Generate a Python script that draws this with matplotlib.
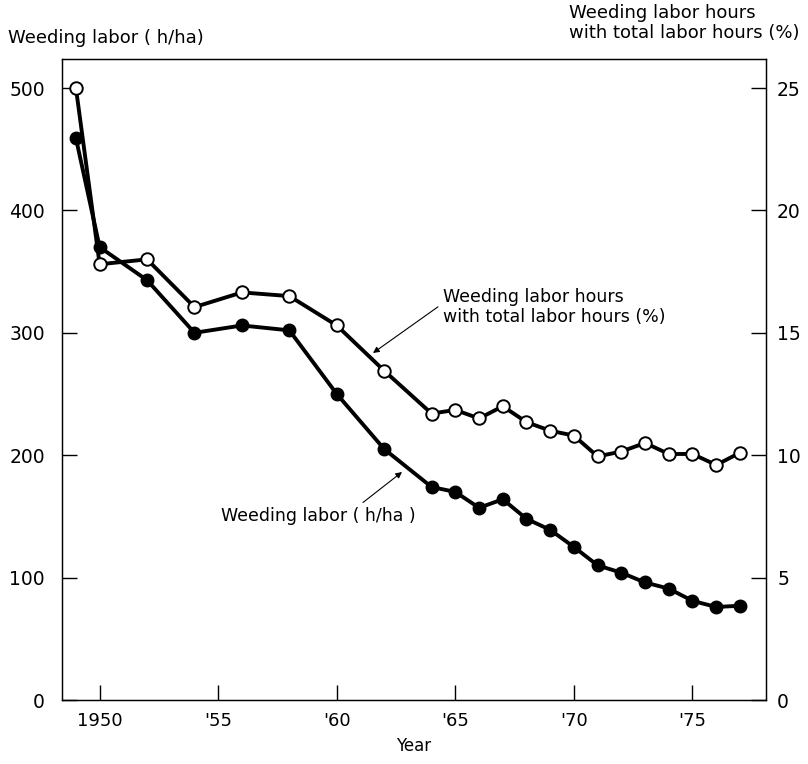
import matplotlib
matplotlib.use('Agg')
import matplotlib.pyplot as plt

# weeding labour per hectare (h/ha) and its share of total labour hours (%)
years = [1949, 1950, 1952, 1954, 1956, 1958, 1960, 1962,
         1964, 1965, 1966, 1967, 1968, 1969, 1970, 1971,
         1972, 1973, 1974, 1975, 1976, 1977]
labor_hha = [459, 370, 343, 300, 306, 302, 250, 205,
             174, 170, 157, 164, 148, 139, 125, 110,
             104, 96, 91, 81, 76, 77]
labor_share = [25.0, 17.8, 18.0, 16.05, 16.65, 16.5, 15.3, 13.45,
               11.7, 11.85, 11.5, 12.0, 11.35, 11.0, 10.8, 9.95,
               10.15, 10.5, 10.05, 10.05, 9.6, 10.1]

xticks = [1950, 1955, 1960, 1965, 1970, 1975]
xticklabels = ["1950", "'55", "'60", "'65", "'70", "'75"]
left_ticks = [0, 100, 200, 300, 400, 500]
right_ticks = [0, 5, 10, 15, 20, 25]

plt.rcParams.update({
    "font.family": "DejaVu Sans",
    "font.size": 12,
    "axes.linewidth": 0.9,
})

fig = plt.figure(figsize=(8.08, 7.64), dpi=100)
ax = fig.add_axes([61.7 / 808, 64 / 764, (766 - 61.7) / 808, (700 - 59) / 764])
ax2 = ax.twinx()

ax.set_xlim(1948.4, 1978.1)
ax.set_ylim(0, 523.7)
ax2.set_ylim(0, 523.7 / 20)

ax.plot(years, labor_hha, color='black', linewidth=2.8, marker='o',
        markersize=9, markerfacecolor='black', zorder=3)
ax2.plot(years, labor_share, color='black', linewidth=2.8, marker='o',
         markersize=9, markerfacecolor='white', markeredgecolor='black',
         markeredgewidth=1.4, zorder=4)

ax.set_xticks(xticks)
ax.set_xticklabels(xticklabels)
ax.set_yticks(left_ticks)
ax2.set_yticks(right_ticks)

ax.tick_params(axis='x', direction='in', length=11, width=1.0, labelsize=13, pad=9)
ax.tick_params(axis='y', direction='in', length=11, width=1.0, labelsize=13.5, pad=12)
ax2.tick_params(axis='y', direction='in', length=11, width=1.0, labelsize=13.5, pad=8)

ax.set_xlabel("Year", fontsize=12, labelpad=5)

fig.text(8 / 808, 1 - 38 / 764, "Weeding labor ( h/ha)", fontsize=13,
         ha='left', va='center')
fig.text(569 / 808, 1 - 23 / 764, "Weeding labor hours\nwith total labor hours (%)",
         fontsize=13, ha='left', va='center', linespacing=1.1)

# arrows pointing at the two curves
ax.annotate("Weeding labor hours\nwith total labor hours (%)",
            xy=(373, 764 - 353), xycoords='figure pixels',
            xytext=(443, 764 - 307), textcoords='figure pixels',
            fontsize=12.5, ha='left', va='center', linespacing=1.1,
            arrowprops=dict(arrowstyle='-|>', color='black', lw=0.8,
                            shrinkA=2, shrinkB=0, mutation_scale=9,
                            relpos=(0.0, 0.6)))
ax.annotate("Weeding labor ( h/ha )",
            xy=(402, 764 - 472), xycoords='figure pixels',
            xytext=(221, 764 - 516), textcoords='figure pixels',
            fontsize=12.5, ha='left', va='center',
            arrowprops=dict(arrowstyle='-|>', color='black', lw=0.8,
                            shrinkA=2, shrinkB=0, mutation_scale=9,
                            relpos=(0.7, 1.0)))

fig.savefig("out.png", dpi=100)
